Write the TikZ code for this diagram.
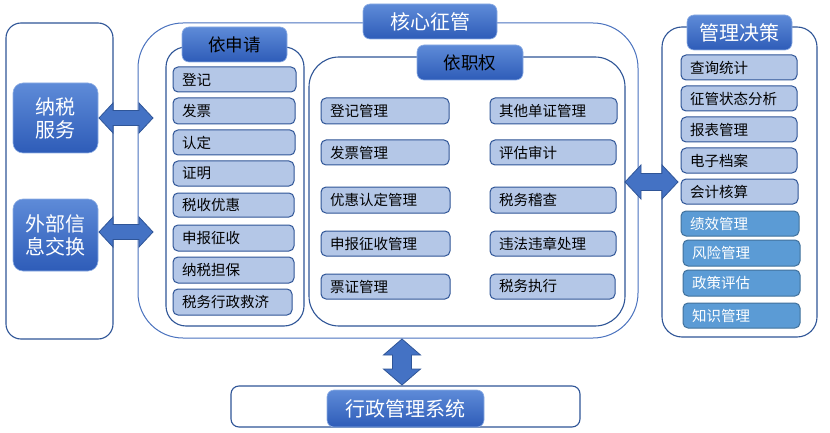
\documentclass[tikz,border=0pt]{standalone}
\usepackage{fontspec}
\setmainfont{Noto Sans CJK SC}
\definecolor{dk}{HTML}{2F5597}
\definecolor{lt}{HTML}{B4C7E7}
\definecolor{md}{HTML}{5B9BD5}
\definecolor{mdb}{HTML}{41719C}
\definecolor{gt}{HTML}{5E8BD8}
\definecolor{gb}{HTML}{2E5CB8}
\definecolor{af}{HTML}{4472C4}
\definecolor{cb}{HTML}{4A72BE}
\newcommand\mkbox[7][]{%
  \pgfmathsetmacro\bw{#5-#3}\pgfmathsetmacro\bh{#6-#4}%
  \node[#1, minimum width=\bw pt, minimum height=\bh pt] (#2) at ({(#3+#5)/2},{(#4+#6)/2}) {#7};}
\newcommand\itembox[7][]{%
  \pgfmathsetmacro\bw{#5-#3}\pgfmathsetmacro\bh{#6-#4}\pgfmathsetmacro\tw{#5-#3-18}%
  \node[item, #1, minimum width=\bw pt, minimum height=\bh pt, text width=\tw pt] (#2) at ({(#3+#5)/2},{(#4+#6)/2}) {#7};}
\newcommand\hdarrow[7]{% name-prefix, x1, x2, y, head length, head half, shaft half
  \coordinate (#1l) at (#2,#4); \coordinate (#1r) at (#3,#4);
  \draw[blockarrow] (#1l) -- ({#2+#5},{#4-#6}) -- ({#2+#5},{#4-#7}) -- ({#3-#5},{#4-#7}) -- ({#3-#5},{#4-#6}) -- (#1r)
    -- ({#3-#5},{#4+#6}) -- ({#3-#5},{#4+#7}) -- ({#2+#5},{#4+#7}) -- ({#2+#5},{#4+#6}) -- cycle;}
\newcommand\vdarrow[7]{% name-prefix, y1, y2, x, head length, head half, shaft half
  \coordinate (#1t) at (#4,#2); \coordinate (#1b) at (#4,#3);
  \draw[blockarrow] (#1t) -- ({#4-#6},{#2+#5}) -- ({#4-#7},{#2+#5}) -- ({#4-#7},{#3-#5}) -- ({#4-#6},{#3-#5}) -- (#1b)
    -- ({#4+#6},{#3-#5}) -- ({#4+#7},{#3-#5}) -- ({#4+#7},{#2+#5}) -- ({#4+#6},{#2+#5}) -- cycle;}
\begin{document}
\begin{tikzpicture}[x=1pt,y=-1pt,
  container/.style={rectangle, draw=dk, line width=1.1pt, fill=white, inner sep=0pt},
  titlebox/.style={rectangle, rounded corners=7pt, top color=gt, bottom color=gb, draw=gt!70!white, line width=0.6pt, inner sep=0pt, text=white, font=\fontsize{20}{24}\selectfont, align=center},
  item/.style={rectangle, rounded corners=5pt, draw=dk, line width=1pt, fill=lt, inner xsep=9pt, inner ysep=0pt, align=left, text=black, font=\fontsize{14.5}{16}\selectfont},
  mitem/.style={fill=md, draw=mdb, text=white},
  blockarrow/.style={fill=af, draw=dk, line width=0.8pt, line join=miter}]
\useasboundingbox (0,0) rectangle (830,433);
% left column
\mkbox[container, rounded corners=15pt]{leftbox}{6}{23}{113}{339}{}
\mkbox[titlebox, rounded corners=10pt, font=\fontsize{20}{23}\selectfont]{tax}{13}{83}{98}{153}{纳税\\服务}
\mkbox[titlebox, rounded corners=10pt, font=\fontsize{20}{23}\selectfont]{ext}{13}{199}{98}{271}{外部信\\息交换}
% core
\mkbox[container, draw=cb, line width=1pt, rounded corners=45pt]{core}{138}{23}{638}{338}{}
\mkbox[titlebox]{coretitle}{363}{4}{497}{39}{核心征管}
% apply
\mkbox[container, rounded corners=20pt]{apply}{166}{47}{304}{326}{}
\mkbox[titlebox, text=black, font=\fontsize{17.5}{20}\selectfont]{applytitle}{182}{27}{287}{62}{依申请}
\itembox{a1}{173}{67}{296}{92}{登记}
\itembox{a2}{173}{98}{295}{124}{发票}
\itembox{a3}{173}{130}{295}{155}{认定}
\itembox{a4}{173}{161}{294}{186}{证明}
\itembox{a5}{173}{193}{294}{217}{税收优惠}
\itembox{a6}{173}{225}{294}{251}{申报征收}
\itembox{a7}{173}{257}{294}{283}{纳税担保}
\itembox{a8}{173}{289}{292}{315}{税务行政救济}
% duty
\mkbox[container, rounded corners=30pt]{duty}{309}{57}{625}{326}{}
\mkbox[titlebox, text=black, font=\fontsize{17.5}{20}\selectfont]{dutytitle}{417}{45}{523}{80}{依职权}
\itembox{d1}{321}{98}{449}{124}{登记管理}
\itembox{d2}{321}{140}{449}{165}{发票管理}
\itembox{d3}{321}{187}{450}{213}{优惠认定管理}
\itembox{d4}{321}{231}{450}{256}{申报征收管理}
\itembox{d5}{321}{274}{450}{299}{票证管理}
\itembox{e1}{490}{98}{617}{124}{其他单证管理}
\itembox{e2}{490}{140}{616}{165}{评估审计}
\itembox{e3}{490}{187}{616}{213}{税务稽查}
\itembox{e4}{490}{231}{616}{256}{违法违章处理}
\itembox{e5}{490}{274}{615}{299}{税务执行}
% management
\mkbox[container, rounded corners=20pt]{mgmt}{662}{27}{817}{337}{}
\mkbox[titlebox]{mgmttitle}{687}{15}{792}{50}{管理决策}
\itembox{m1}{681}{55}{797}{80}{查询统计}
\itembox{m2}{681}{86}{797}{111}{征管状态分析}
\itembox{m3}{681}{117}{797}{142}{报表管理}
\itembox{m4}{681}{148}{797}{173}{电子档案}
\itembox{m5}{681}{179}{798}{204}{会计核算}
\itembox[mitem]{m6}{681}{211}{799}{236}{绩效管理}
\itembox[mitem]{m7}{683}{240}{800}{266}{风险管理}
\itembox[mitem]{m8}{683}{270}{800}{296}{政策评估}
\itembox[mitem]{m9}{683}{303}{800}{328}{知识管理}
% admin
\mkbox[container, rounded corners=8pt]{admin}{231}{386}{580}{427}{}
\mkbox[titlebox]{admintitle}{327}{390}{484}{427}{行政管理系统}
% arrows
\hdarrow{arA}{99}{153}{118}{14}{15}{7.5}
\hdarrow{arB}{99}{153}{232}{14}{15}{7.5}
\hdarrow{arC}{625}{678}{182}{16}{17}{8.5}
\vdarrow{arD}{339}{385}{402}{16}{18.5}{9.5}
\end{tikzpicture}
\end{document}
